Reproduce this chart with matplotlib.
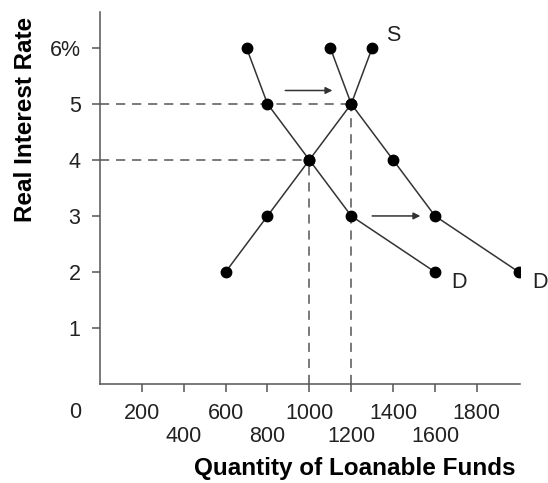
import matplotlib
matplotlib.use("Agg")
import matplotlib.pyplot as plt

plt.rcParams["font.family"] = ["Liberation Sans", "DejaVu Sans"]

# Data
supply_q = [600, 800, 1000, 1200, 1300]
supply_r = [2, 3, 4, 5, 6]
demand1_q = [700, 800, 1000, 1200, 1600]
demand1_r = [6, 5, 4, 3, 2]
demand2_q = [1100, 1200, 1400, 1600, 2000]
demand2_r = [6, 5, 4, 3, 2]

x_ticks_upper = [200, 600, 1000, 1400, 1800]
x_ticks_lower = [400, 800, 1200, 1600]
y_ticks = [1, 2, 3, 4, 5, 6]
y_tick_labels = ["1", "2", "3", "4", "5", "6%"]

# equilibrium points for dashed guides
eq_old = (1000, 4)
eq_new = (1200, 5)

line_col = "#333333"
axis_col = "#555555"
text_col = "#222222"

fig = plt.figure(figsize=(5.48, 4.83), dpi=100)
ax = fig.add_axes([0.1825, 0.205, 0.766, 0.770])

# dashed guide lines
for q, r in [eq_old, eq_new]:
    ax.plot([0, q], [r, r], color="#555555", lw=1.1, ls=(0, (6, 4.5)))
    ax.plot([q, q], [0, r], color="#555555", lw=1.1, ls=(0, (6, 4.5)))

# curves
for q, r in [(supply_q, supply_r), (demand1_q, demand1_r), (demand2_q, demand2_r)]:
    ax.plot(q, r, color=line_col, lw=1.1, marker="o", ms=7.5,
            mfc="black", mec="black", zorder=3)

# shift arrows
ax.annotate("", xy=(1110, 5.24), xytext=(885, 5.24),
            arrowprops=dict(arrowstyle="-|>", color=line_col, lw=1.1,
                            mutation_scale=10, shrinkA=0, shrinkB=0))
ax.annotate("", xy=(1530, 3.0), xytext=(1300, 3.0),
            arrowprops=dict(arrowstyle="-|>", color=line_col, lw=1.1,
                            mutation_scale=10, shrinkA=0, shrinkB=0))

# curve labels
ax.text(1400, 6.22, "S", fontsize=15.5, ha="center", va="center", color=text_col)
ax.text(1715, 1.81, "D", fontsize=15.5, ha="center", va="center", color=text_col)
ax.text(2100, 1.81, "D", fontsize=15.5, ha="center", va="center", color=text_col,
        clip_on=False)

ax.set_xlim(0, 2005)
ax.set_ylim(0, 6.64)

# staggered x tick labels: upper row on major ticks, lower row on minor ticks
ax.set_xticks(x_ticks_upper)
ax.set_xticklabels([str(v) for v in x_ticks_upper])
ax.set_xticks(x_ticks_lower, minor=True)
ax.set_xticklabels([str(v) for v in x_ticks_lower], minor=True)
ax.set_yticks(y_ticks)
ax.set_yticklabels(y_tick_labels)

ax.tick_params(axis="both", which="both", colors=axis_col, labelcolor=text_col,
               labelsize=15.5, length=6, width=1.1)
ax.tick_params(axis="x", which="major", pad=8)
ax.tick_params(axis="x", which="minor", pad=24.5)
ax.tick_params(axis="y", pad=8)

ax.annotate("0", xy=(0, 0), xytext=(-25, -29), textcoords="offset pixels",
            ha="center", va="center", fontsize=15.5, color=text_col,
            annotation_clip=False)

for side in ["top", "right"]:
    ax.spines[side].set_visible(False)
for side in ["left", "bottom"]:
    ax.spines[side].set_color(axis_col)
    ax.spines[side].set_linewidth(1.1)

ax.set_xlabel("Quantity of Loanable Funds", fontsize=17.5, fontweight="bold")
ax.xaxis.set_label_coords(0.606, -0.195)
ax.set_ylabel("Real Interest Rate", fontsize=17.5, fontweight="bold")
ax.yaxis.set_label_coords(-0.15, 0.71)

fig.savefig("out.png", dpi=100)
